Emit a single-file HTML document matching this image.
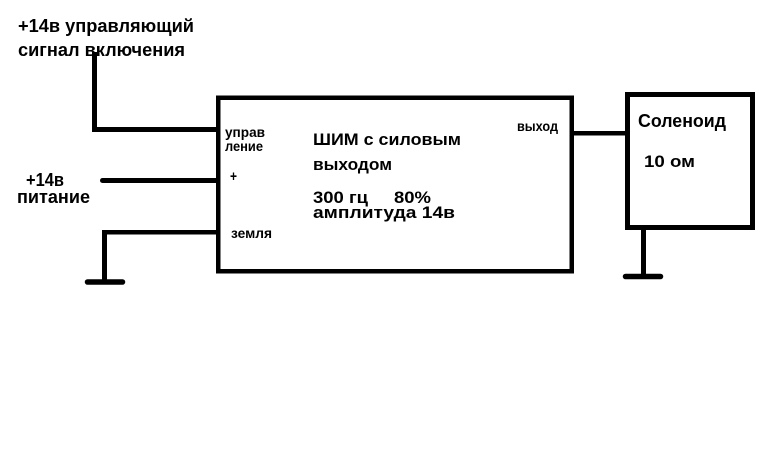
<!DOCTYPE html>
<html>
<head>
<meta charset="utf-8">
<style>
  html,body{margin:0;padding:0;background:#fff;}
  body{width:763px;height:457px;overflow:hidden;}
  svg{display:block;}
  text{font-family:"Liberation Sans","DejaVu Sans",sans-serif;font-weight:bold;fill:#000;}
</style>
</head>
<body>
<svg width="763" height="457" viewBox="0 0 763 457" xmlns="http://www.w3.org/2000/svg">
  <rect x="0" y="0" width="763" height="457" fill="#fff"/>

  <!-- control wire -->
  <rect x="92" y="52" width="5" height="80" fill="#000"/>
  <rect x="92" y="127" width="126" height="5" fill="#000"/>

  <!-- supply wire -->
  <line x1="102.5" y1="180.5" x2="218" y2="180.5" stroke="#000" stroke-width="5" stroke-linecap="round"/>

  <!-- ground wire left -->
  <rect x="102" y="230" width="116" height="4.5" fill="#000"/>
  <rect x="102" y="230" width="5" height="52" fill="#000"/>
  <line x1="87.5" y1="282" x2="122.5" y2="282" stroke="#000" stroke-width="5.5" stroke-linecap="round"/>

  <!-- main box -->
  <rect x="218.25" y="97.75" width="353.5" height="173.5" fill="none" stroke="#000" stroke-width="4.5"/>

  <!-- output wire -->
  <rect x="573" y="131" width="54" height="4.5" fill="#000"/>

  <!-- solenoid box -->
  <rect x="627.5" y="94.5" width="125" height="133" fill="none" stroke="#000" stroke-width="5"/>
  <rect x="641" y="228" width="5" height="49" fill="#000"/>
  <line x1="625.5" y1="276.5" x2="660.5" y2="276.5" stroke="#000" stroke-width="5.5" stroke-linecap="round"/>

  <!-- texts -->
  <text x="18" y="32" font-size="18" textLength="176" lengthAdjust="spacingAndGlyphs">+14в управляющий</text>
  <text x="18" y="56" font-size="18" textLength="167" lengthAdjust="spacingAndGlyphs">сигнал включения</text>

  <text x="26" y="186" font-size="18" textLength="38" lengthAdjust="spacingAndGlyphs">+14в</text>
  <text x="17" y="203" font-size="18" textLength="73" lengthAdjust="spacingAndGlyphs">питание</text>

  <text x="225" y="137" font-size="14" textLength="40" lengthAdjust="spacingAndGlyphs">управ</text>
  <text x="225" y="151" font-size="14" textLength="38" lengthAdjust="spacingAndGlyphs">ление</text>
  <text x="230" y="181" font-size="15" textLength="7" lengthAdjust="spacingAndGlyphs">+</text>
  <text x="231" y="238" font-size="14" textLength="41" lengthAdjust="spacingAndGlyphs">земля</text>
  <text x="517" y="131" font-size="14" textLength="41" lengthAdjust="spacingAndGlyphs">выход</text>

  <text x="313" y="145" font-size="17" textLength="148" lengthAdjust="spacingAndGlyphs">ШИМ с силовым</text>
  <text x="313" y="170" font-size="17" textLength="79" lengthAdjust="spacingAndGlyphs">выходом</text>
  <text x="313" y="203" font-size="17" textLength="55" lengthAdjust="spacingAndGlyphs">300 гц</text>
  <text x="394" y="203" font-size="17" textLength="37" lengthAdjust="spacingAndGlyphs">80%</text>
  <text x="313" y="218" font-size="17" textLength="142" lengthAdjust="spacingAndGlyphs">амплитуда 14в</text>

  <text x="638" y="127" font-size="18" textLength="88" lengthAdjust="spacingAndGlyphs">Соленоид</text>
  <text x="644" y="167" font-size="17" textLength="51" lengthAdjust="spacingAndGlyphs">10 ом</text>
</svg>
</body>
</html>
